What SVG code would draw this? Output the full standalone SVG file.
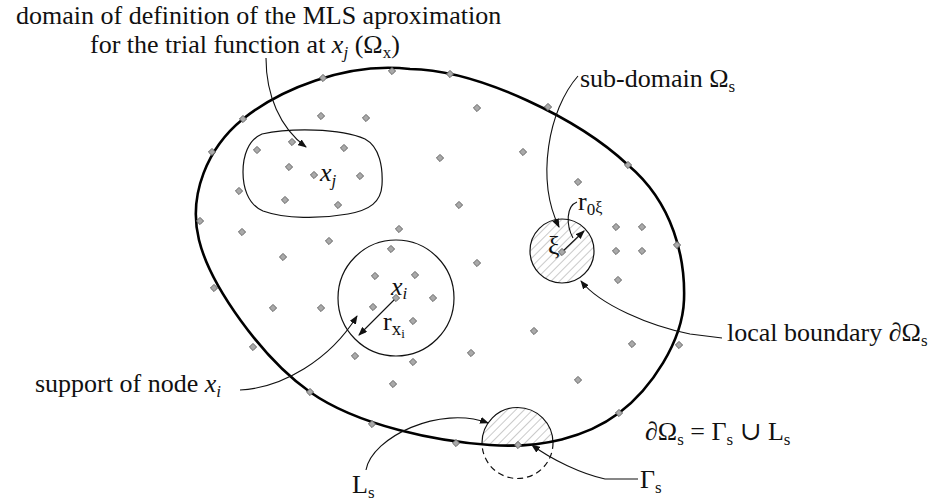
<svg xmlns="http://www.w3.org/2000/svg" xmlns:xlink="http://www.w3.org/1999/xlink" width="940" height="502" viewBox="0 0 940 502">
<style>
.t{font-family:"Liberation Serif","DejaVu Serif",serif;font-size:26px;fill:#111}
.it{font-style:italic}
.thin{fill:none;stroke:#111;stroke-width:1.2}
.con{fill:none;stroke:#111;stroke-width:1.1}
.bnd{fill:none;stroke:#000;stroke-width:2.6}
</style>
<defs>
<marker id="ah" markerUnits="userSpaceOnUse" markerWidth="9" markerHeight="7" refX="8" refY="3.5" orient="auto">
<path d="M0,0 L9,3.5 L0,7 Z" fill="#111"/>
</marker>
<symbol id="d" overflow="visible"><path d="M0,-3.6 L3.6,0 L0,3.6 L-3.6,0 Z" fill="#a9a9a9" stroke="#5a5a5a" stroke-width="0.9" stroke-linejoin="round"/></symbol>
<pattern id="hatch" patternUnits="userSpaceOnUse" width="6" height="6" patternTransform="rotate(45)">
<rect width="6" height="6" fill="#fff"/>
<line x1="0" y1="0" x2="0" y2="6" stroke="#8a8a8a" stroke-width="0.9"/>
</pattern>
<path id="dom" d="M199,240 C187.8,194.5 207.8,147.5 243,119 C278.2,90.5 345.8,61.3 410,69 C480,70 580,120 628,165 C673.7,203.5 685.5,258.7 684,300 C682.5,341.3 651.3,388.8 619,413 C586.7,437.2 541.5,448.5 490,445 C438.5,441.5 358.5,426.2 310,392 C261.5,357.8 210.2,285.5 199,240 Z"/>
<clipPath id="inside"><use xlink:href="#dom"/></clipPath>
<clipPath id="outside"><path clip-rule="evenodd" d="M0,0 H940 V502 H0 Z M199,240 C187.8,194.5 207.8,147.5 243,119 C278.2,90.5 345.8,61.3 410,69 C480,70 580,120 628,165 C673.7,203.5 685.5,258.7 684,300 C682.5,341.3 651.3,388.8 619,413 C586.7,437.2 541.5,448.5 490,445 C438.5,441.5 358.5,426.2 310,392 C261.5,357.8 210.2,285.5 199,240 Z"/></clipPath>
</defs>
<rect width="940" height="502" fill="#fff"/>

<g id="boundary-subdomain">
<circle cx="517.5" cy="443" r="35.5" fill="url(#hatch)" clip-path="url(#inside)"/>
<circle cx="517.5" cy="443" r="35.5" class="thin" clip-path="url(#inside)"/>
<circle cx="517.5" cy="443" r="35.5" class="thin" stroke-dasharray="6,4" clip-path="url(#outside)"/>
</g>

<g id="domain">
<use xlink:href="#dom" class="bnd"/>
</g>

<g id="omega-x">
<path class="thin" d="M262,134 C290,128 340,128 365,139 C380,147 383,168 382,185 C381,202 370,210 348,214 C320,219 285,219 263,211 C247,204 243,186 243,172 C243,156 248,140 262,134 Z"/>
</g>

<g id="support-xi">
<circle cx="396" cy="298" r="58" class="thin"/>
</g>

<g id="subdomain">
<circle cx="562" cy="251" r="32" fill="url(#hatch)" stroke="#111" stroke-width="1.2"/>
</g>

<g id="connectors">
<path class="con" d="M266,58 C266,95 280,128 306,147" marker-end="url(#ah)"/>
<path class="con" d="M578,76 C548,110 536,180 559,227" marker-end="url(#ah)"/>
<path class="con" d="M577,202 C566,206 566,225 573,238"/>
<path class="con" d="M562,252 L584,231" marker-end="url(#ah)"/>
<path class="con" d="M722,338 L690,334 C650,326 600,305 581,281" marker-end="url(#ah)"/>
<path class="con" d="M240,390 C282,388 330,360 357,316" marker-end="url(#ah)"/>
<path class="con" d="M396,298 L359,335" marker-end="url(#ah)"/>
<path class="con" d="M366,470 C372,437 440,405 488,423" marker-end="url(#ah)"/>
<path class="con" d="M638,479 L605,479 C582,474 552,460 532,445" marker-end="url(#ah)"/>
</g>

<g id="nodes">
<use xlink:href="#d" x="200" y="221"/><use xlink:href="#d" x="212" y="152"/><use xlink:href="#d" x="243" y="119"/>
<use xlink:href="#d" x="323" y="78"/><use xlink:href="#d" x="392" y="71"/><use xlink:href="#d" x="450" y="74"/>
<use xlink:href="#d" x="548" y="107"/><use xlink:href="#d" x="628" y="165"/><use xlink:href="#d" x="677" y="245"/>
<use xlink:href="#d" x="679" y="345"/><use xlink:href="#d" x="619" y="413"/><use xlink:href="#d" x="518" y="445"/>
<use xlink:href="#d" x="456" y="443"/><use xlink:href="#d" x="372" y="424"/><use xlink:href="#d" x="310" y="392"/>
<use xlink:href="#d" x="253" y="347"/><use xlink:href="#d" x="214" y="288"/>
<use xlink:href="#d" x="321" y="116"/><use xlink:href="#d" x="366" y="118"/><use xlink:href="#d" x="477" y="108"/>
<use xlink:href="#d" x="257" y="150"/><use xlink:href="#d" x="292" y="142"/><use xlink:href="#d" x="344" y="148"/>
<use xlink:href="#d" x="440" y="158"/><use xlink:href="#d" x="523" y="152"/><use xlink:href="#d" x="289" y="167"/>
<use xlink:href="#d" x="314" y="175"/><use xlink:href="#d" x="360" y="176"/><use xlink:href="#d" x="239" y="191"/>
<use xlink:href="#d" x="285" y="200"/><use xlink:href="#d" x="338" y="205"/><use xlink:href="#d" x="459" y="205"/>
<use xlink:href="#d" x="578" y="182"/><use xlink:href="#d" x="242" y="232"/><use xlink:href="#d" x="399" y="229"/>
<use xlink:href="#d" x="329" y="241"/><use xlink:href="#d" x="283" y="257"/><use xlink:href="#d" x="391" y="249"/>
<use xlink:href="#d" x="477" y="263"/><use xlink:href="#d" x="616" y="227"/><use xlink:href="#d" x="642" y="227"/>
<use xlink:href="#d" x="616" y="251"/><use xlink:href="#d" x="642" y="251"/><use xlink:href="#d" x="562" y="252"/>
<use xlink:href="#d" x="618" y="280"/><use xlink:href="#d" x="375" y="276"/><use xlink:href="#d" x="415" y="275"/>
<use xlink:href="#d" x="396" y="298"/><use xlink:href="#d" x="433" y="298"/><use xlink:href="#d" x="273" y="308"/>
<use xlink:href="#d" x="321" y="308"/><use xlink:href="#d" x="373" y="307"/><use xlink:href="#d" x="413" y="321"/>
<use xlink:href="#d" x="534" y="331"/><use xlink:href="#d" x="632" y="344"/><use xlink:href="#d" x="355" y="356"/>
<use xlink:href="#d" x="413" y="362"/><use xlink:href="#d" x="471" y="353"/><use xlink:href="#d" x="393" y="384"/>
<use xlink:href="#d" x="578" y="380"/>
</g>

<g id="labels">
<text class="t" x="16" y="24" font-size="26.5">domain of definition of the MLS aproximation</text>
<text class="t" x="90" y="53">for the trial function at <tspan class="it">x</tspan><tspan class="it" font-size="17" dy="5">j</tspan><tspan dy="-5"> (Ω</tspan><tspan font-size="17" dy="5">x</tspan><tspan dy="-5">)</tspan></text>
<text class="t" x="580" y="87">sub-domain Ω<tspan font-size="17" dy="5">s</tspan></text>
<text class="t" x="578" y="210">r<tspan font-size="17" dy="5">0</tspan><tspan font-size="16" dy="-2">ξ</tspan></text>
<text class="t" x="548" y="254" font-size="22">ξ</text>
<text class="t it" x="320" y="181">x<tspan font-size="17" dy="5">j</tspan></text>
<text class="t it" x="391" y="295">x<tspan font-size="17" dy="4">i</tspan></text>
<text class="t" x="383" y="330">r<tspan font-size="19" dy="5">x</tspan><tspan font-size="13" dy="3">i</tspan></text>
<text class="t" x="727" y="341">local boundary ∂Ω<tspan font-size="17" dy="5">s</tspan></text>
<text class="t" x="35" y="392">support of node <tspan class="it">x</tspan><tspan class="it" font-size="17" dy="5">i</tspan></text>
<text class="t" x="645" y="440">∂Ω<tspan font-size="17" dy="5">s</tspan><tspan dy="-5"> = Γ</tspan><tspan font-size="17" dy="5">s</tspan><tspan dy="-5"> ∪ L</tspan><tspan font-size="17" dy="5">s</tspan></text>
<text class="t" x="352" y="493">L<tspan font-size="17" dy="5">s</tspan></text>
<text class="t" x="640" y="488">Γ<tspan font-size="17" dy="5">s</tspan></text>
</g>
</svg>
